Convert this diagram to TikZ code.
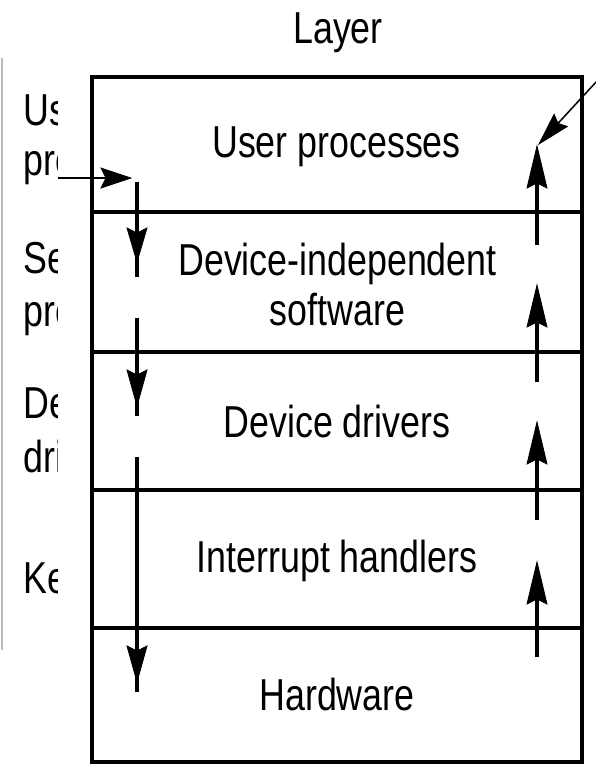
\documentclass[tikz,border=0pt]{standalone}
\usepackage{fontspec}
\setmainfont{Liberation Sans}
\newcommand{\tall}[1]{\scalebox{1}[1.25]{#1}}
\begin{document}
\begin{tikzpicture}[x=1pt,y=-1pt,
  layerbox/.style={draw, line width=4pt, minimum width=490pt, inner sep=0pt},
  lbl/.style={font=\fontsize{35.8}{50}\selectfont, anchor=base, inner sep=0pt},
  side/.style={font=\fontsize{35.8}{50}\selectfont, anchor=base west, inner sep=0pt},
  flow/.style={line width=4pt},
  dart/.style={fill=black, draw=black, line width=0.8pt, line join=miter}]
\useasboundingbox (0,0) rectangle (596,764);

% the stack of layers
\node[layerbox, minimum height=135pt] (user)  at (337,144.5) {};
\node[layerbox, minimum height=140pt] (indep) at (337,282) {};
\node[layerbox, minimum height=138pt] (drv)   at (337,421) {};
\node[layerbox, minimum height=138pt] (intr)  at (337,559) {};
\node[layerbox, minimum height=134pt] (hw)    at (337,695) {};

% headings and layer names
\node[lbl] (title) at (338,43) {\tall{Layer}};
\node[lbl] (tuser) at (336.5,157) {\tall{User processes}};
\node[lbl] (tind1) at (337.5,275) {\tall{Device-independent}};
\node[lbl] (tind2) at (337.5,325) {\tall{software}};
\node[lbl] (tdrv)  at (337,437) {\tall{Device drivers}};
\node[lbl] (tintr) at (337,572) {\tall{Interrupt handlers}};
\node[lbl] (thw)   at (337,710) {\tall{Hardware}};

% left column, cut off at its right edge
\draw[gray!55, line width=2pt] (1.5,58) -- (1.5,650);
\begin{scope}
  \clip (0,0) rectangle (57.5,764);
  \node[side] (l1) at (23,125) {\tall{Us}};
  \node[side] (l2) at (23,175) {\tall{pro}};
  \node[side] (l3) at (23,273) {\tall{Se}};
  \node[side] (l4) at (23,326) {\tall{pro}};
  \node[side] (l5) at (23,418) {\tall{De}};
  \node[side] (l6) at (23,472) {\tall{driv}};
  \node[side] (l7) at (23,593) {\tall{Ke}};
\end{scope}

% request path going down
\coordinate (h0) at (58,178);
\coordinate (h1) at (131,178);
\coordinate (d1a) at (137,182);
\coordinate (d1t) at (137,262);
\coordinate (d1b) at (137,277);
\coordinate (d2a) at (137,318);
\coordinate (d2t) at (137,406);
\coordinate (d2b) at (137,416);
\coordinate (d3a) at (137,457);
\coordinate (d3t) at (137,682);
\coordinate (d3b) at (137,692);
\draw[line width=2pt, shorten >=12pt] (h0) -- (h1);
\fill[dart] (h1) -- ++(-30,-10) -- ++(5,10) -- ++(-5,10) -- cycle;
\draw[flow] (d1a) -- (d1b);
\fill[dart] (d1t) -- ++(-10,-34) -- ++(10,5) -- ++(10,-5) -- cycle;
\draw[flow] (d2a) -- (d2b);
\fill[dart] (d2t) -- ++(-10,-36) -- ++(10,5) -- ++(10,-5) -- cycle;
\draw[flow] (d3a) -- (d3b);
\fill[dart] (d3t) -- ++(-10,-36) -- ++(10,5) -- ++(10,-5) -- cycle;

% reply path going up
\coordinate (u1a) at (537,657);
\coordinate (u1b) at (537,562);
\coordinate (u2a) at (537,520);
\coordinate (u2b) at (537,422);
\coordinate (u3a) at (537,382);
\coordinate (u3b) at (537,285);
\coordinate (u4a) at (537,245);
\coordinate (u4b) at (537,146);
\foreach \s in {1,2,3,4}{
  \draw[flow, shorten >=20pt] (u\s a) -- (u\s b);
  \fill[dart] (u\s b) -- ++(-10,42) -- ++(10,-5) -- ++(10,5) -- cycle;
}

% incoming pointer at the top right
\coordinate (p0) at (597,81);
\coordinate (p1) at (539,144);
\draw[line width=1.5pt, shorten >=15pt] (p0) -- (p1);
\fill[dart] (p1) -- (567.3,126.5) -- (558,123.4) -- (554.1,114.3) -- cycle;
\end{tikzpicture}
\end{document}
